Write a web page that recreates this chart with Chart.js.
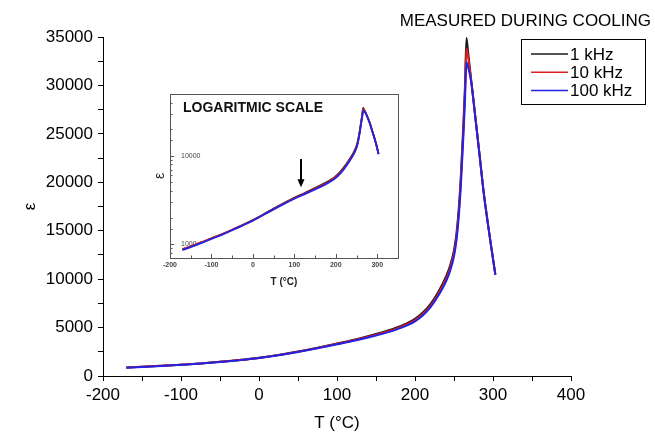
<!DOCTYPE html>
<html>
<head>
<meta charset="utf-8">
<script src="https://cdn.jsdelivr.net/npm/chart.js@4.4.1/dist/chart.umd.min.js"></script>
<style>
  html, body { margin: 0; padding: 0; background: #fff; }
  #wrap { position: relative; width: 655px; height: 434px; }
  #main { position: absolute; left: 0; top: 0; }
  #inset { position: absolute; left: 145px; top: 88px; }
</style>
</head>
<body>
<div id="wrap">
  <canvas id="main" width="655" height="434"></canvas>
  <canvas id="inset" width="260" height="205"></canvas>
</div>
<script>
// temperatures (°C) and permittivity
const temperatures = [-170, -150, -125, -100, -75, -50, -25, 0, 25, 50, 75, 100, 125, 150, 175, 190, 200, 210, 220, 230, 240, 245, 250, 253, 256, 259, 262, 264, 266, 268, 272, 278, 283, 288, 293, 298, 303];
const eps1kHz   = [880, 950, 1050, 1170, 1300, 1460, 1650, 1880, 2170, 2530, 2930, 3360, 3800, 4330, 4950, 5450, 5900, 6550, 7450, 8700, 10300, 11400, 13000, 14600, 17200, 21000, 26000, 29800, 34900, 33500, 30600, 26300, 22700, 19000, 16000, 13200, 10500];
const eps10kHz  = [880, 950, 1050, 1170, 1300, 1460, 1650, 1870, 2160, 2510, 2900, 3320, 3750, 4260, 4860, 5340, 5770, 6400, 7280, 8500, 10050, 11130, 12700, 14250, 16800, 20500, 25400, 29100, 33800, 33000, 30500, 26250, 22650, 19000, 16000, 13200, 10500];
const eps100kHz = [860, 930, 1030, 1150, 1280, 1440, 1630, 1850, 2140, 2480, 2860, 3270, 3690, 4180, 4760, 5220, 5640, 6250, 7100, 8300, 9800, 10850, 12350, 13900, 16350, 19950, 24700, 28300, 32400, 31900, 30400, 26200, 22600, 18950, 15950, 13150, 10450];

const seriesLabels = ['1 kHz', '10 kHz', '100 kHz'];
const seriesColors = ['#1a1a1a', '#e01e1e', '#2222e6'];
const seriesValues = [eps1kHz, eps10kHz, eps100kHz];

const mainXTicks = [-200, -100, 0, 100, 200, 300, 400];
const mainYTicks = [0, 5000, 10000, 15000, 20000, 25000, 30000, 35000];
const insetXTicks = [-200, -100, 0, 100, 200, 300];
const insetYTicks = [1000, 10000];

// arrow in the inset (temperature, from eps, to eps)
const arrowT = 116;
const arrowFrom = 9200;
const arrowTo = 4400;

Chart.defaults.font.family = "'Liberation Sans', Arial, sans-serif";
Chart.defaults.color = '#000';

function makeDatasets(width) {
  return seriesValues.map((vals, i) => ({
    label: seriesLabels[i],
    data: temperatures.map((t, j) => ({ x: t, y: vals[j] })),
    borderColor: seriesColors[i],
    backgroundColor: seriesColors[i],
    borderWidth: width,
    pointRadius: 0,
    fill: false,
    cubicInterpolationMode: 'monotone',
    order: 3 - i
  }));
}

const coolingTitle = {
  id: 'coolingTitle',
  afterDraw(chart) {
    const ctx = chart.ctx;
    ctx.save();
    ctx.font = "17px 'Liberation Sans', Arial, sans-serif";
    ctx.fillStyle = '#000';
    ctx.textAlign = 'right';
    ctx.textBaseline = 'middle';
    ctx.fillText('MEASURED DURING COOLING', 651, 21);
    ctx.restore();
  }
};

const boxLegend = {
  id: 'boxLegend',
  afterDraw(chart) {
    const ctx = chart.ctx;
    ctx.save();
    ctx.strokeStyle = '#000';
    ctx.lineWidth = 1;
    ctx.strokeRect(521.5, 39.5, 124, 65);
    ctx.font = "17px 'Liberation Sans', Arial, sans-serif";
    ctx.textBaseline = 'middle';
    chart.data.datasets.forEach((ds, i) => {
      const y = 54 + i * 18.3;
      ctx.strokeStyle = ds.borderColor;
      ctx.lineWidth = 1.5;
      ctx.beginPath();
      ctx.moveTo(531, y);
      ctx.lineTo(568, y);
      ctx.stroke();
      ctx.fillStyle = '#000';
      ctx.fillText(ds.label, 570, y + 1);
    });
    ctx.restore();
  }
};

const insetDecor = {
  id: 'insetDecor',
  afterDraw(chart) {
    const ctx = chart.ctx;
    const a = chart.chartArea;
    const xs = chart.scales.x, ys = chart.scales.y;
    ctx.save();
    ctx.strokeStyle = '#555';
    ctx.lineWidth = 1;
    ctx.strokeRect(a.left + 0.5, a.top + 0.5, a.right - a.left, a.bottom - a.top);
    // inward ticks
    ctx.beginPath();
    xs.ticks.forEach(t => {
      const px = Math.round(xs.getPixelForValue(t.value)) + 0.5;
      const len = insetXTicks.includes(t.value) ? 4 : 2.5;
      ctx.moveTo(px, a.bottom);
      ctx.lineTo(px, a.bottom - len);
    });
    ys.ticks.forEach(t => {
      const py = Math.round(ys.getPixelForValue(t.value)) + 0.5;
      const len = insetYTicks.includes(t.value) ? 4 : 2.5;
      ctx.moveTo(a.left, py);
      ctx.lineTo(a.left + len, py);
    });
    ctx.stroke();
    // caption
    ctx.font = "bold 14px 'Liberation Sans', Arial, sans-serif";
    ctx.fillStyle = '#111';
    ctx.textBaseline = 'middle';
    ctx.fillText('LOGARITMIC SCALE', a.left + 13, a.top + 14);
    // arrow
    const ax = xs.getPixelForValue(arrowT);
    const y0 = ys.getPixelForValue(arrowFrom);
    const y1 = ys.getPixelForValue(arrowTo);
    ctx.strokeStyle = '#000';
    ctx.fillStyle = '#000';
    ctx.lineWidth = 2;
    ctx.beginPath();
    ctx.moveTo(ax, y0);
    ctx.lineTo(ax, y1 - 7);
    ctx.stroke();
    ctx.beginPath();
    ctx.moveTo(ax - 3.5, y1 - 8);
    ctx.lineTo(ax + 3.5, y1 - 8);
    ctx.lineTo(ax, y1);
    ctx.closePath();
    ctx.fill();
    ctx.restore();
  }
};

new Chart(document.getElementById('main'), {
  type: 'line',
  data: { datasets: makeDatasets(2) },
  options: {
    responsive: false,
    animation: false,
    layout: { padding: { top: 37, right: 84, bottom: 0, left: 0 } },
    plugins: { legend: { display: false }, tooltip: { enabled: false } },
    scales: {
      x: {
        type: 'linear',
        min: -200,
        max: 400,
        afterFit: s => { s.height = 58; s.paddingLeft = 0; s.paddingRight = 0; },
        ticks: {
          stepSize: 50, autoSkip: false, maxRotation: 0, padding: 4,
          color: '#000', font: { size: 17 },
          callback: v => mainXTicks.includes(v) ? String(v) : ''
        },
        grid: { drawOnChartArea: false, drawTicks: true, tickLength: 5, color: '#000' },
        border: { display: true, color: '#000', width: 1 },
        title: { display: true, text: 'T (°C)', color: '#000', font: { size: 17 }, padding: { top: 0, bottom: 0 } }
      },
      y: {
        type: 'linear',
        min: 0,
        max: 35000,
        afterFit: s => { s.width = 103; s.paddingTop = 0; s.paddingBottom = 0; },
        ticks: {
          stepSize: 2500, autoSkip: false, padding: 5,
          color: '#000', font: { size: 17 },
          callback: v => mainYTicks.includes(v) ? String(v) : ''
        },
        grid: { drawOnChartArea: false, drawTicks: true, tickLength: 5, color: '#000' },
        border: { display: true, color: '#000', width: 1 },
        title: { display: true, text: 'ε', color: '#000', font: { size: 17 }, padding: { top: 20, bottom: 0 } }
      }
    }
  },
  plugins: [coolingTitle, boxLegend]
});

new Chart(document.getElementById('inset'), {
  type: 'line',
  data: { datasets: makeDatasets(1.8) },
  options: {
    responsive: false,
    animation: false,
    layout: { padding: { top: 6, right: 7, bottom: 0, left: 0 } },
    plugins: { legend: { display: false }, tooltip: { enabled: false } },
    scales: {
      x: {
        type: 'linear',
        min: -200,
        max: 350,
        afterFit: s => { s.height = 35; s.paddingLeft = 0; s.paddingRight = 0; },
        ticks: {
          stepSize: 50, autoSkip: false, maxRotation: 0, padding: 3,
          color: '#444', font: { size: 7, weight: 'bold' },
          callback: v => insetXTicks.includes(v) ? String(v) : ''
        },
        grid: { display: false, drawTicks: false },
        border: { display: false },
        title: { display: true, text: 'T (°C)', color: '#222', font: { size: 10, weight: 'bold' }, padding: { top: 0, bottom: 5 } }
      },
      y: {
        type: 'logarithmic',
        min: 700,
        max: 50000,
        afterFit: s => { s.width = 25; s.paddingTop = 0; s.paddingBottom = 0; },
        ticks: {
          mirror: true, padding: 11, autoSkip: false,
          color: '#444', font: { size: 7 },
          callback: v => insetYTicks.includes(v) ? String(v) : ''
        },
        grid: { display: false, drawTicks: false },
        border: { display: false },
        title: { display: true, text: 'ε', color: '#222', font: { size: 14 }, padding: { top: 7, bottom: 0 } }
      }
    }
  },
  plugins: [insetDecor]
});
</script>
</body>
</html>
